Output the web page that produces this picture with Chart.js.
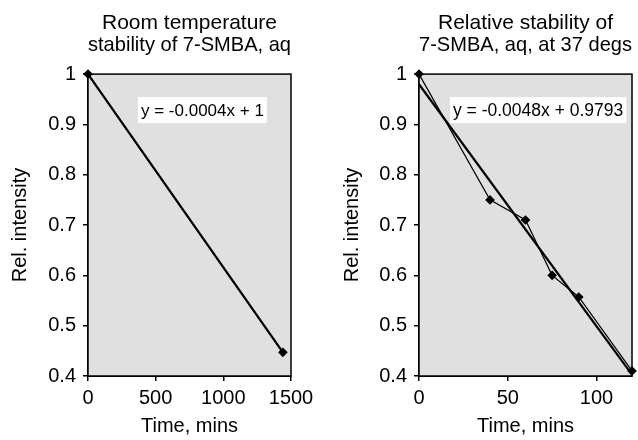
<!DOCTYPE html>
<html>
<head>
<meta charset="utf-8">
<script src="https://cdn.jsdelivr.net/npm/chart.js@4.4.1/dist/chart.umd.min.js"></script>
<style>
html, body { margin: 0; padding: 0; background: #fff; }
#wrap { position: relative; width: 638px; height: 440px; overflow: hidden; }
canvas { position: absolute; top: 0; }
#roomChart { left: 0; }
#warmChart { left: 332px; }
</style>
</head>
<body>
<div id="wrap">
  <canvas id="roomChart" width="332" height="440"></canvas>
  <canvas id="warmChart" width="306" height="440"></canvas>
</div>
<script>
// room temperature series
const roomTimes = [0, 1440];
const roomIntensity = [1, 0.447];
const roomXTicks = [0, 500, 1000, 1500];

// 37 degrees series
const warmTimes = [0, 40, 60, 75, 90, 120];
const warmIntensity = [1, 0.75, 0.71, 0.6, 0.557, 0.41];
const warmXTicks = [0, 50, 100];

const yTicks = [0.4, 0.5, 0.6, 0.7, 0.8, 0.9, 1];

const FONT = "'Liberation Sans', Arial, sans-serif";

// least squares line through the points (what the spreadsheet trendline shows)
function fitLine(xs, ys) {
    const n = xs.length;
    const mx = xs.reduce((a, b) => a + b, 0) / n;
    const my = ys.reduce((a, b) => a + b, 0) / n;
    let sxy = 0, sxx = 0;
    for (let i = 0; i < n; i++) {
        sxy += (xs[i] - mx) * (ys[i] - my);
        sxx += (xs[i] - mx) * (xs[i] - mx);
    }
    const m = sxy / sxx;
    return { m: m, b: my - m * mx };
}

const plotFrame = {
    id: 'plotFrame',
    beforeDatasetsDraw(chart) {
        const a = chart.chartArea;
        const ctx = chart.ctx;
        ctx.save();
        ctx.fillStyle = '#e0e0e0';
        ctx.fillRect(a.left, a.top, a.right - a.left, a.bottom - a.top);
        ctx.strokeStyle = '#000';
        ctx.lineWidth = 1.5;
        ctx.strokeRect(a.left, a.top, a.right - a.left, a.bottom - a.top);
        ctx.restore();
    },
    afterDatasetsDraw(chart, args, opts) {
        if (!opts.text) return;
        const a = chart.chartArea;
        const ctx = chart.ctx;
        ctx.save();
        ctx.font = opts.size + 'px ' + FONT;
        const w = ctx.measureText(opts.text).width;
        const x = a.left + opts.dx;
        const y = a.top + opts.dy;
        ctx.fillStyle = '#fff';
        ctx.fillRect(x - 3, y - 13, w + 6, 26);
        ctx.fillStyle = '#000';
        ctx.textBaseline = 'middle';
        ctx.textAlign = 'left';
        ctx.fillText(opts.text, x, y + 1);
        ctx.restore();
    }
};

function makeChart(id, titleLines, xs, ys, xTicks, xMax, eq, yWidth, padRight) {
    const fit = fitLine(xs, ys);
    const xEnd = xs[xs.length - 1];
    const points = xs.map((x, i) => ({ x: x, y: ys[i] }));
    const trend = [{ x: 0, y: fit.b }, { x: xEnd, y: fit.b + fit.m * xEnd }];

    return new Chart(document.getElementById(id), {
        type: 'scatter',
        data: {
            datasets: [
                {
                    data: trend,
                    showLine: true,
                    borderColor: '#000',
                    borderWidth: 2.2,
                    pointRadius: 0,
                    clip: false
                },
                {
                    data: points,
                    showLine: true,
                    borderColor: '#000',
                    backgroundColor: '#000',
                    borderWidth: 1.2,
                    pointStyle: 'rectRot',
                    pointRadius: 4,
                    clip: false
                }
            ]
        },
        options: {
            responsive: false,
            animation: false,
            layout: { padding: { left: 0, right: padRight, top: 0, bottom: 0 } },
            plugins: {
                legend: { display: false },
                tooltip: { enabled: false },
                title: {
                    display: true,
                    text: titleLines,
                    color: '#000',
                    fullSize: false,
                    font: { family: FONT, size: 21, weight: 'normal', lineHeight: 1.05 },
                    padding: { top: 12, bottom: 18 }
                },
                plotFrame: eq
            },
            scales: {
                x: {
                    type: 'linear',
                    min: 0,
                    max: xMax,
                    afterBuildTicks: s => { s.ticks = xTicks.map(v => ({ value: v })); },
                    afterFit: s => { s.height = 64; },
                    grid: { drawOnChartArea: false, tickLength: 5, color: '#000', lineWidth: 1.5 },
                    border: { display: true, color: '#000', width: 2 },
                    ticks: {
                        color: '#000',
                        padding: 5,
                        maxRotation: 0,
                        font: { family: FONT, size: 20 },
                        callback: v => String(v)
                    },
                    title: {
                        display: true,
                        text: 'Time, mins',
                        color: '#000',
                        font: { family: FONT, size: 20 },
                        padding: { top: 4, bottom: 2 }
                    }
                },
                y: {
                    type: 'linear',
                    min: 0.4,
                    max: 1,
                    afterBuildTicks: s => { s.ticks = yTicks.map(v => ({ value: v })); },
                    afterFit: s => { s.width = yWidth; },
                    grid: { drawOnChartArea: false, tickLength: 5, color: '#000', lineWidth: 1.5 },
                    border: { display: true, color: '#000', width: 2 },
                    ticks: {
                        color: '#000',
                        padding: 7,
                        font: { family: FONT, size: 20 },
                        callback: v => String(Math.round(v * 10) / 10)
                    },
                    title: {
                        display: true,
                        text: 'Rel. intensity',
                        color: '#000',
                        font: { family: FONT, size: 20 },
                        padding: { top: 8, bottom: 4 }
                    }
                }
            }
        },
        plugins: [plotFrame]
    });
}

makeChart('roomChart', ['Room temperature', 'stability of 7-SMBA, aq'],
    roomTimes, roomIntensity, roomXTicks, 1500,
    { text: 'y = -0.0004x + 1', dx: 53, dy: 36, size: 17 }, 88, 41);

makeChart('warmChart', ['Relative stability of', '7-SMBA, aq, at 37 degs'],
    warmTimes, warmIntensity, warmXTicks, 120,
    { text: 'y = -0.0048x + 0.9793', dx: 34, dy: 36, size: 17.5 }, 87, 6);
</script>
</body>
</html>
